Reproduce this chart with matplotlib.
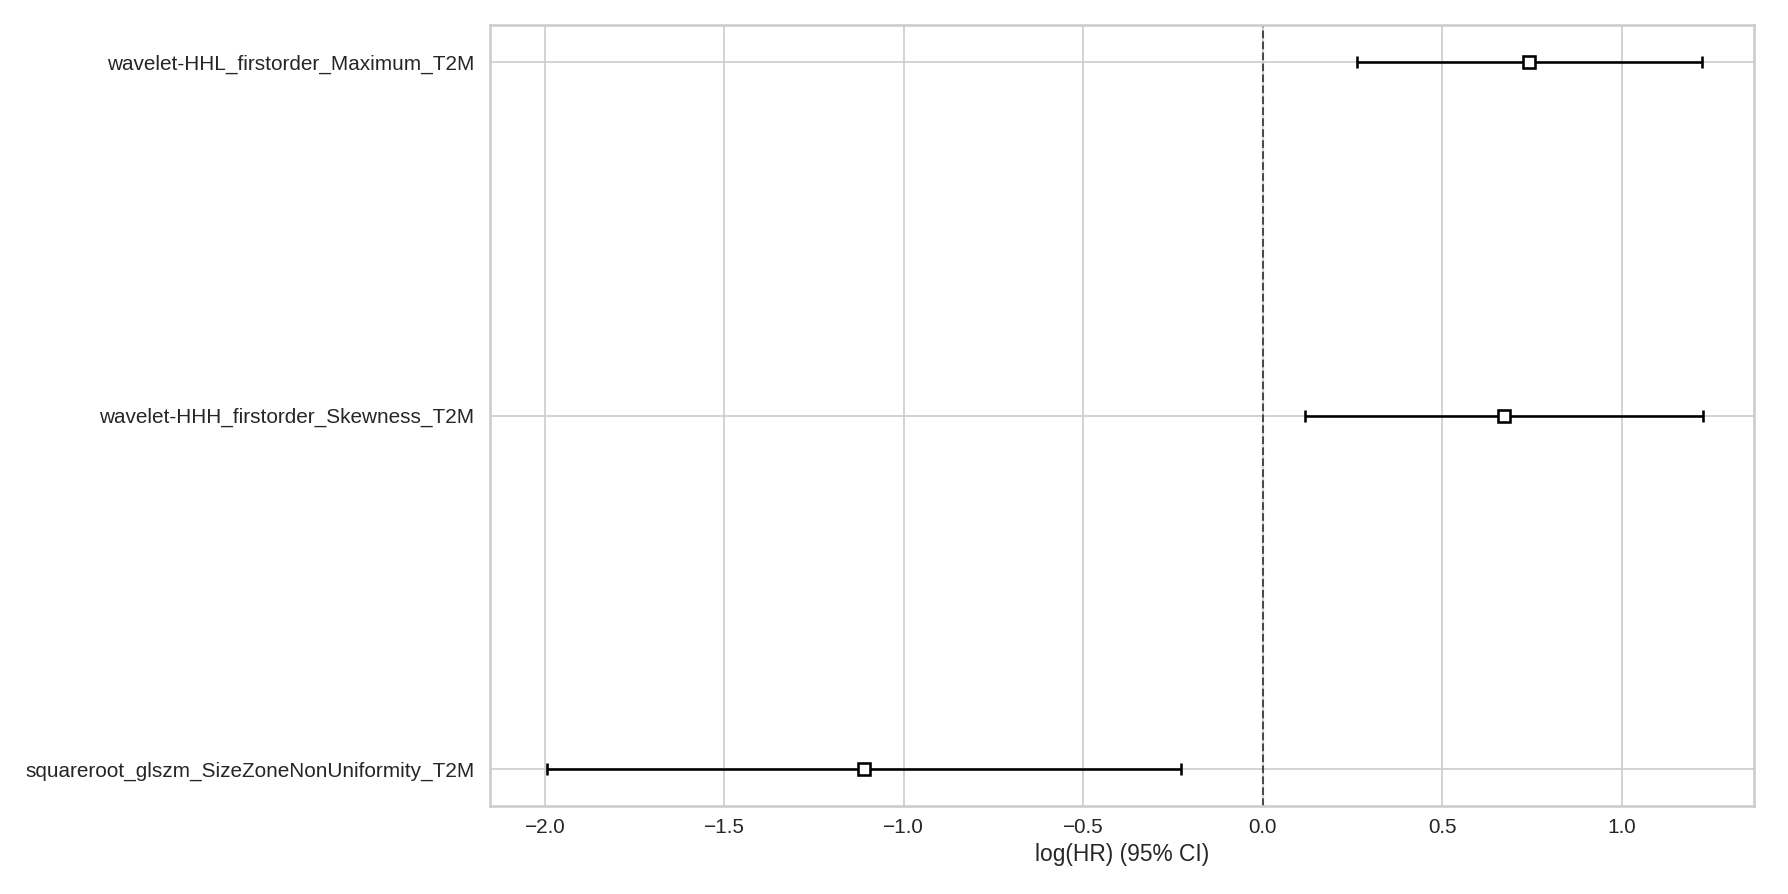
import matplotlib
matplotlib.use("Agg")
import matplotlib.pyplot as plt
import seaborn as sns
import numpy as np

covariates = [
    "squareroot_glszm_SizeZoneNonUniformity_T2M",
    "wavelet-HHH_firstorder_Skewness_T2M",
    "wavelet-HHL_firstorder_Maximum_T2M",
]
coef = [-1.111, 0.673, 0.743]
lower = [-1.995, 0.117, 0.264]
upper = [-0.228, 1.228, 1.225]
xticks = [-2.0, -1.5, -1.0, -0.5, 0.0, 0.5, 1.0]

sns.set_style("whitegrid")
plt.rcParams['font.family'] = ['Liberation Sans', 'DejaVu Sans']

fig = plt.figure(figsize=(12, 6), dpi=149)
ax = fig.add_axes([0.274, 0.0984, 0.707, 0.8735])

y = np.arange(len(covariates))
coef_a = np.array(coef)
err = np.vstack([coef_a - np.array(lower), np.array(upper) - coef_a])

ax.errorbar(coef_a, y, xerr=err, fmt="s", color="k", markerfacecolor="white",
            markeredgewidth=1.25, elinewidth=1.25, capsize=3, markersize=6)
ax.axvline(0, linestyle="--", color="k", alpha=0.65, linewidth=1)

ax.set_yticks(y)
ax.set_yticklabels(covariates, fontsize=10, color="0.15")
ax.set_xticks(xticks)
ax.set_xticklabels([f"{v:.1f}".replace("-", "\u2212") for v in xticks], fontsize=10, color="0.15")
ax.set_xlim(-2.153, 1.369)
ax.set_ylim(-0.105, 2.105)
ax.set_xlabel("log(HR) (95% CI)", fontsize=11, color="0.15", labelpad=3.0)
ax.tick_params(axis="y", length=0, pad=7.4)
ax.tick_params(axis="x", length=0, pad=5.6)
for s in ax.spines.values():
    s.set_color("#cccccc")
    s.set_linewidth(1.25)

fig.savefig("out.png", dpi=149)
